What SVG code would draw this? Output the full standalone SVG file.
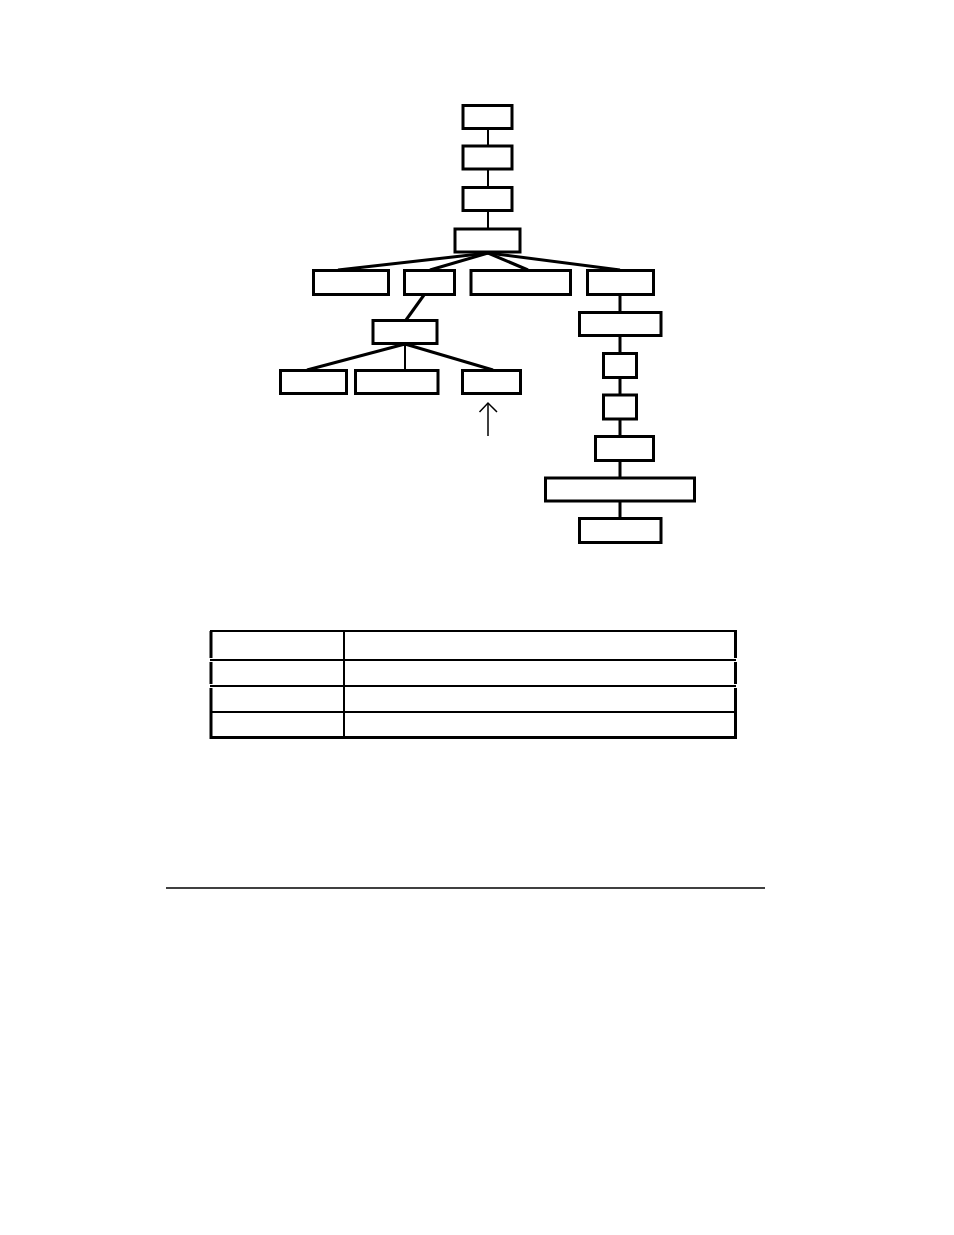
<svg xmlns="http://www.w3.org/2000/svg" width="954" height="1235" viewBox="0 0 954 1235">
<style>
.box{fill:#fff;stroke:#000;stroke-width:3}
.c{stroke:#000;stroke-width:3;fill:none}
.cv{stroke:#000;stroke-width:2;fill:none}
.thin{stroke:#000;stroke-width:1.5;fill:none}
.t2{stroke:#000;stroke-width:2;fill:none}
.t3{stroke:#000;stroke-width:3;fill:none}
</style>
<rect width="954" height="1235" fill="#fff"/>
<g id="connectors">
<line class="cv" x1="488" y1="129" x2="488" y2="145"/>
<line class="cv" x1="488" y1="170" x2="488" y2="187"/>
<line class="cv" x1="488" y1="211" x2="488" y2="228"/>
<line class="c" x1="488" y1="253" x2="338" y2="270"/>
<line class="c" x1="488" y1="253" x2="430" y2="270"/>
<line class="c" x1="488" y1="253" x2="528" y2="270"/>
<line class="c" x1="488" y1="253" x2="620" y2="270"/>
<line class="c" x1="424" y1="295" x2="406" y2="320"/>
<line class="c" x1="405" y1="344" x2="307" y2="370"/>
<line class="cv" x1="405" y1="344" x2="405" y2="370"/>
<line class="c" x1="405" y1="344" x2="493" y2="370"/>
<line class="c" x1="620" y1="295" x2="620" y2="312"/>
<line class="c" x1="620" y1="336" x2="620" y2="353"/>
<line class="c" x1="620" y1="378" x2="620" y2="394"/>
<line class="c" x1="620" y1="419" x2="620" y2="436"/>
<line class="c" x1="620" y1="461" x2="620" y2="477"/>
<line class="c" x1="620" y1="502" x2="620" y2="518"/>
<g id="arrow">
<line class="thin" x1="488" y1="436" x2="488" y2="403"/>
<polyline class="thin" points="479.5,412 488,403 497,412"/>
</g>
</g>
<g id="n1"><rect class="box" x="463" y="105.5" width="49" height="23"/></g>
<g id="n2"><rect class="box" x="463" y="146" width="49" height="23"/></g>
<g id="n3"><rect class="box" x="463" y="187.5" width="49" height="23"/></g>
<g id="n4"><rect class="box" x="455" y="229" width="65" height="23"/></g>
<g id="n5"><rect class="box" x="313.5" y="270.5" width="75" height="24"/></g>
<g id="n6"><rect class="box" x="404.5" y="270.5" width="50" height="24"/></g>
<g id="n7"><rect class="box" x="471" y="270.5" width="99.5" height="24"/></g>
<g id="n8"><rect class="box" x="587.5" y="270.5" width="66" height="24"/></g>
<g id="n9"><rect class="box" x="373" y="320.5" width="64" height="23"/></g>
<g id="n10"><rect class="box" x="280.5" y="370.5" width="66" height="23"/></g>
<g id="n11"><rect class="box" x="355.5" y="370.5" width="82.5" height="23"/></g>
<g id="n12"><rect class="box" x="462.5" y="370.5" width="58" height="23"/></g>
<g id="n13"><rect class="box" x="579.5" y="312.5" width="81.5" height="23"/></g>
<g id="n14"><rect class="box" x="603.5" y="353.5" width="33" height="24"/></g>
<g id="n15"><rect class="box" x="603.5" y="395" width="33" height="24"/></g>
<g id="n16"><rect class="box" x="595.5" y="436.5" width="58" height="24"/></g>
<g id="n17"><rect class="box" x="545.5" y="478" width="149" height="23"/></g>
<g id="n18"><rect class="box" x="579.5" y="518.5" width="81.5" height="24"/></g>
<g id="table">
<line class="t2" x1="210" y1="631" x2="736" y2="631"/>
<line class="t2" x1="210" y1="660" x2="736" y2="660"/>
<line class="t2" x1="210" y1="686" x2="736" y2="686"/>
<line class="t2" x1="210" y1="712" x2="736" y2="712"/>
<line class="t3" x1="210" y1="737.5" x2="736" y2="737.5"/>
<line class="t3" x1="211" y1="631" x2="211" y2="658"/>
<line class="t3" x1="211" y1="662" x2="211" y2="684"/>
<line class="t3" x1="211" y1="688" x2="211" y2="739"/>
<line class="t3" x1="735.5" y1="630" x2="735.5" y2="658"/>
<line class="t3" x1="735.5" y1="662" x2="735.5" y2="684"/>
<line class="t3" x1="735.5" y1="688" x2="735.5" y2="739"/>
<line class="t2" x1="344" y1="631" x2="344" y2="737"/>
</g>
<line id="rule" stroke="#000" stroke-width="1.5" x1="166" y1="888" x2="765" y2="888"/>
</svg>
